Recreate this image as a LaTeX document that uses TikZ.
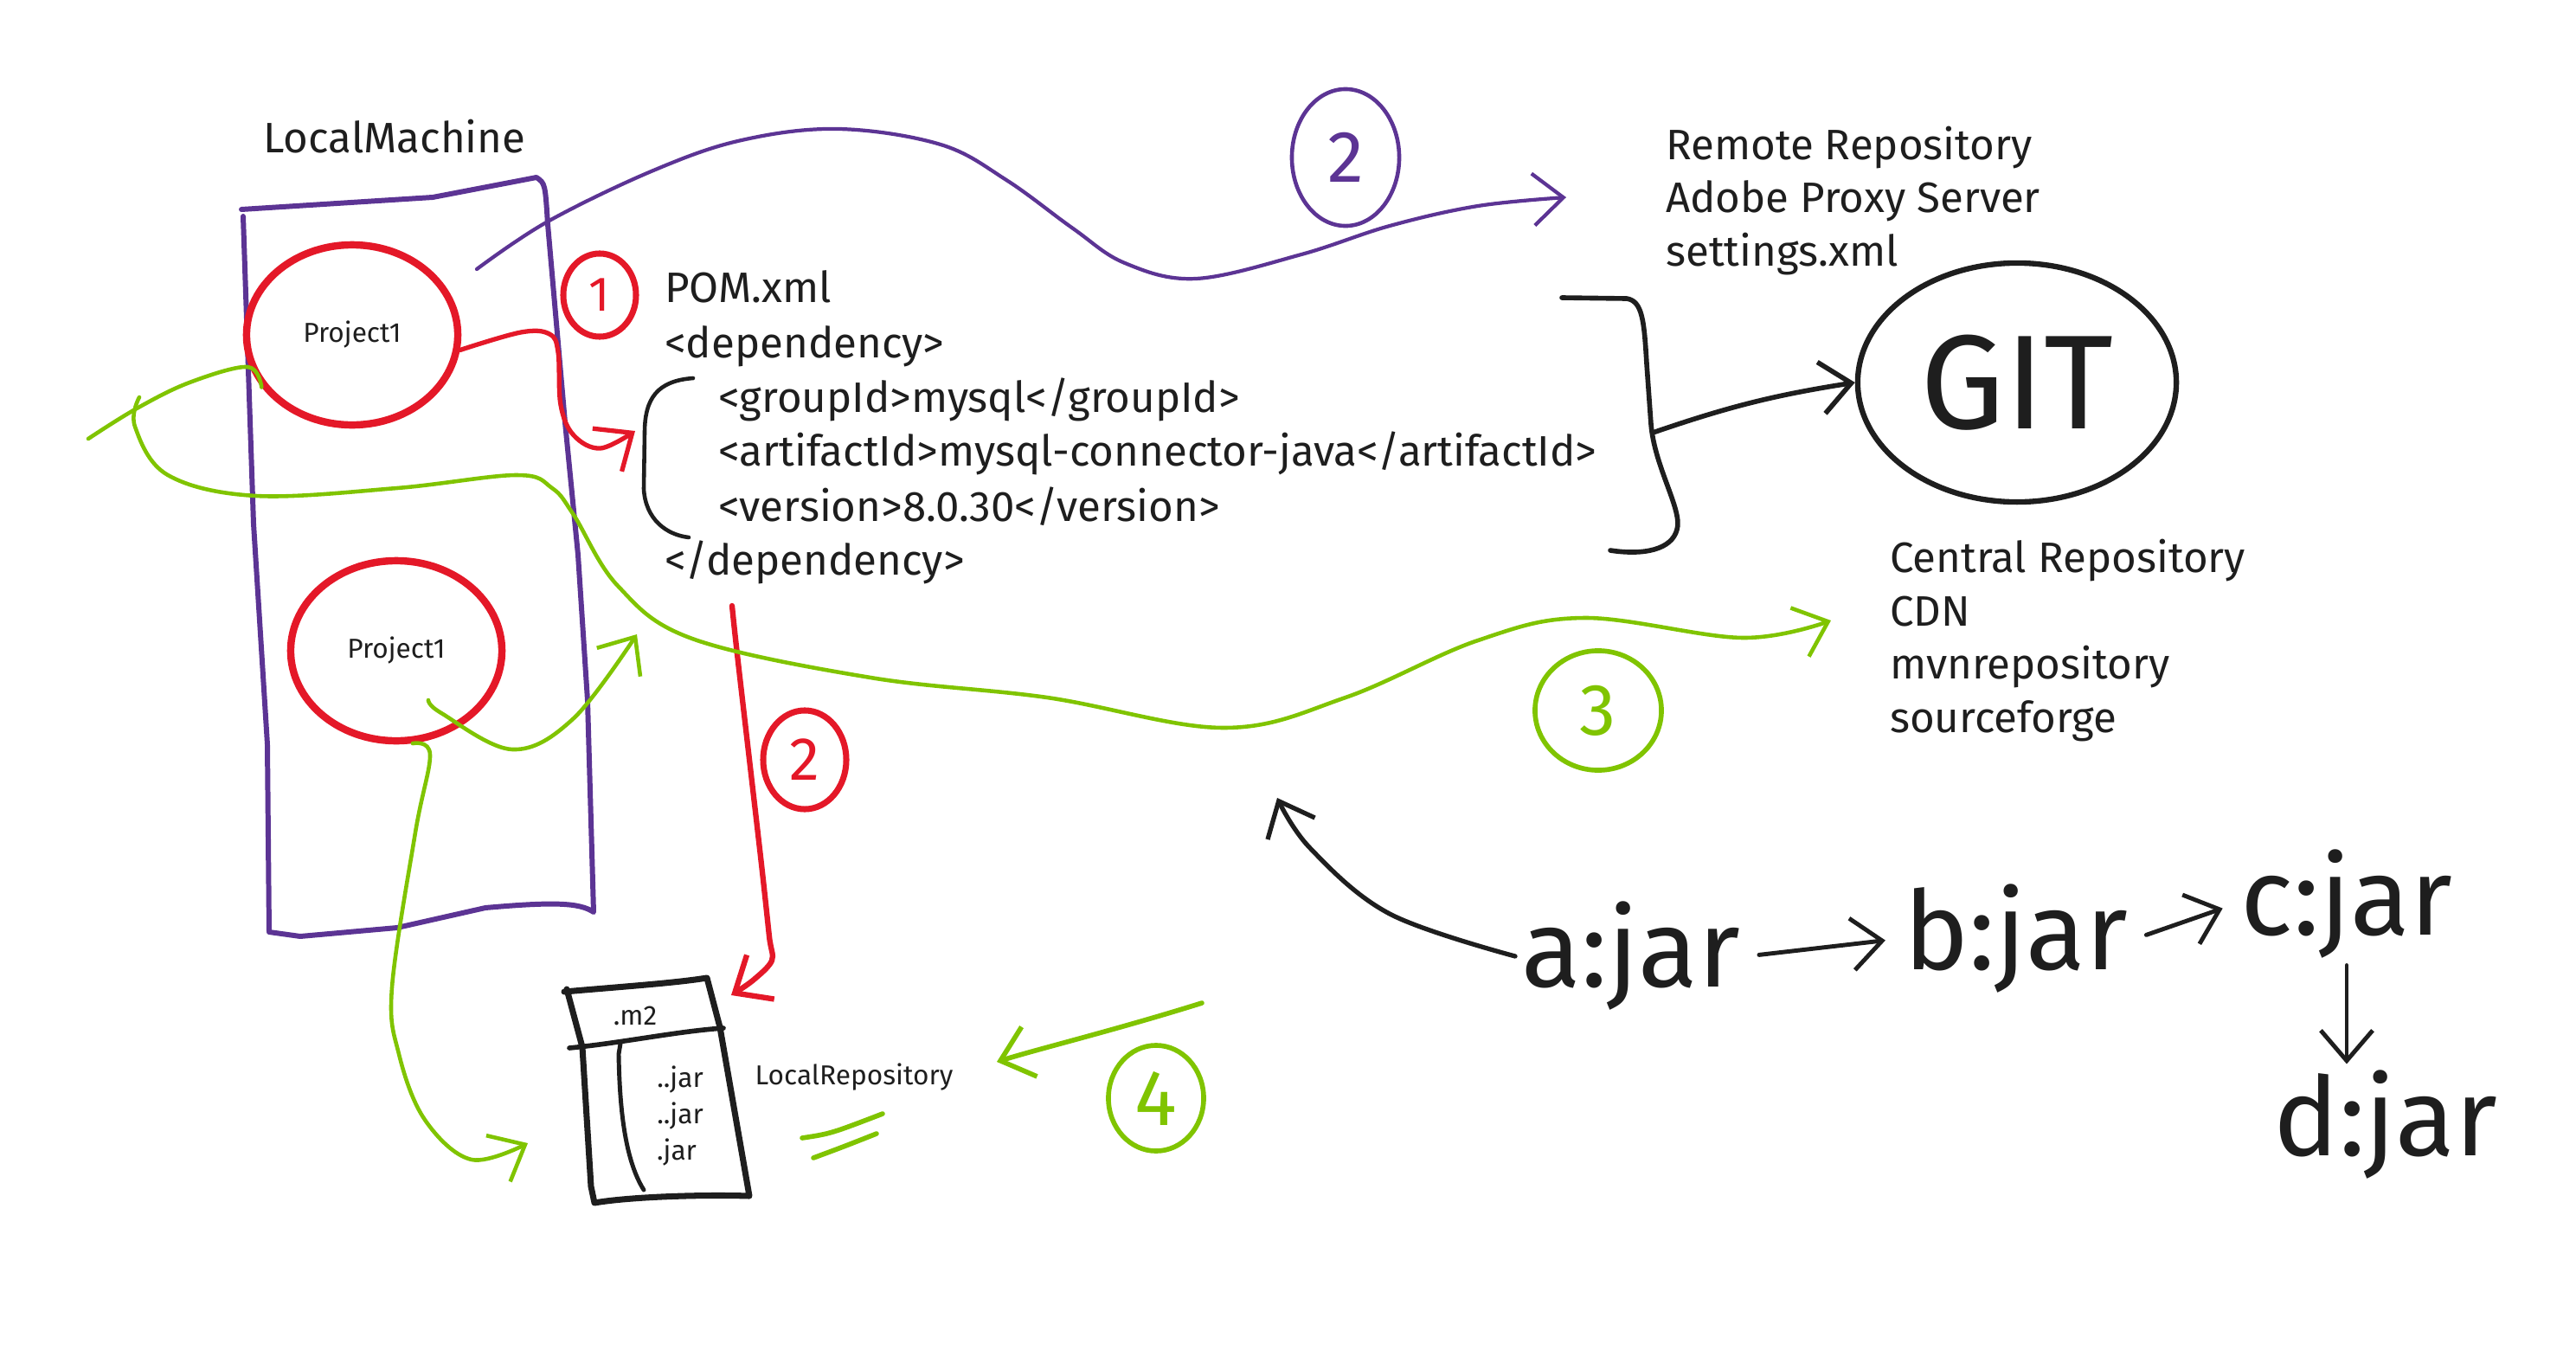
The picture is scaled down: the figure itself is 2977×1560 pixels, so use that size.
\documentclass[tikz,border=0pt]{standalone}
\usepackage{fontspec}
\setmainfont{Fira Sans}
\usetikzlibrary{arrows.meta,shapes.geometric}
\definecolor{mvnpurple}{RGB}{92,52,148}
\definecolor{mvnred}{RGB}{228,24,40}
\definecolor{mvngreen}{RGB}{128,196,0}
\definecolor{mvnink}{RGB}{30,30,30}
\tikzset{
  txt/.style={text=mvnink,inner sep=1pt,font=\fontsize{14pt}{17.6pt}\selectfont},
  smalltxt/.style={text=mvnink,inner sep=1pt,font=\fontsize{9pt}{11pt}\selectfont},
  proj/.style={ellipse,draw=mvnred,line width=2.4pt,inner sep=0pt,minimum width=2.44cm,minimum height=2.08cm,smalltxt},
  num/.style={ellipse,draw,inner sep=0pt,line width=2pt},
  jartxt/.style={text=mvnink,inner sep=2pt,font=\fontsize{36pt}{40pt}\selectfont},
  handarrow/.style={-{Straight Barb[length=0.35cm,width=0.6cm]}},
}
\begin{document}
\begin{tikzpicture}[x=0.01cm,y=-0.01cm,line cap=round,line join=round]
  \useasboundingbox (0,0) rectangle (2977,1560);
  \node[txt] (lm) at (456,158) {LocalMachine};
  \draw[mvnpurple,line width=1.7pt] (279,242) -- (500,228) -- (620,205) .. controls (630,212) .. (633,259)
    -- (653,488) -- (668,641) -- (679,809) -- (686,1054) .. controls (670,1043) and (640,1042) .. (561,1049)
    -- (459,1072) -- (347,1082) -- (311,1077) -- (309,860) -- (293,605) -- (281,250);
  \node[proj] (pa) at (407,387) {Project1};
  \node[proj] (pb) at (458,752) {Project1};
  \node[num,mvnred,minimum width=0.84cm,minimum height=0.96cm,font=\fontsize{16pt}{16pt}\selectfont] (n1) at (693,341) {1};
  \node[num,mvnpurple,line width=1.3pt,minimum width=1.24cm,minimum height=1.58cm,font=\fontsize{24pt}{24pt}\selectfont] (n2p) at (1555,182) {2};
  \node[num,mvnred,minimum width=0.96cm,minimum height=1.14cm,font=\fontsize{20pt}{20pt}\selectfont] (n2r) at (930,878) {2};
  \node[num,mvngreen,line width=1.6pt,minimum width=1.46cm,minimum height=1.38cm,font=\fontsize{24pt}{24pt}\selectfont] (n3) at (1847,821) {3};
  \node[num,mvngreen,line width=1.6pt,minimum width=1.1cm,minimum height=1.22cm,font=\fontsize{26pt}{26pt}\selectfont] (n4) at (1336,1269) {4};
  \node[txt,anchor=base west] (pom) at (764,349) {POM.xml};
  \node[txt,anchor=base west] (dep) at (764,413) {<dependency>};
  \node[txt,anchor=base west] (grp) at (826,476) {<groupId>mysql</groupId>};
  \node[txt,anchor=base west] (art) at (826,538) {<artifactId>mysql-connector-java</artifactId>};
  \node[txt,anchor=base west] (ver) at (826,602) {<version>8.0.30</version>};
  \node[txt,anchor=base west] (depc) at (764,664) {</dependency>};
  \draw[mvnink,line width=1.3pt] (801,437) .. controls (760,440) and (745,460) .. (745,500) -- (744,565)
    .. controls (746,600) and (770,618) .. (796,621);
  \draw[mvnink,line width=1.6pt] (1805,344) -- (1880,345) .. controls (1898,348) and (1900,370) .. (1903,420)
    -- (1908,490) .. controls (1912,540) and (1945,590) .. (1938,612) .. controls (1932,635) and (1900,642) .. (1861,636);
  \coordinate (lbr) at (734,498);
  \coordinate (rbr) at (1910,500);
  \node[ellipse,draw=mvnink,line width=1.8pt,inner sep=0pt,minimum width=3.68cm,minimum height=2.76cm,text=mvnink,
    font=\fontsize{44pt}{44pt}\selectfont] (git) at (2331,442) {GIT};
  \node[txt,align=left,anchor=west] (remote) at (1921,232) {Remote Repository\\Adobe Proxy Server\\settings.xml};
  \node[txt,align=left,anchor=west] (central) at (2180,740) {Central Repository\\CDN\\mvnrepository\\sourceforge};
  \draw[mvnink,line width=2pt] (652,1146) .. controls (720,1140) and (780,1136) .. (817,1130) -- (832,1187) -- (866,1382)
    .. controls (800,1380) and (720,1384) .. (687,1390) -- (683,1371) -- (673,1210) -- (655,1143);
  \draw[mvnink,line width=1.6pt] (658,1211) .. controls (720,1205) and (780,1192) .. (836,1188);
  \draw[mvnink,line width=1.4pt] (717,1206) -- (715,1218) .. controls (716,1280) and (722,1340) .. (744,1375);
  \node[smalltxt] (m2) at (734,1174) {.m2};
  \node[smalltxt] (jar1) at (786,1247) {..jar};
  \node[smalltxt] (jar2) at (786,1289) {..jar};
  \node[smalltxt] (jar3) at (782,1331) {.jar};
  \node[smalltxt] (lrepo) at (987,1245) {LocalRepository};
  \coordinate (p2s) at (551,311);
  \coordinate (p2e) at (1810,228);
  \draw[mvnpurple,line width=1.2pt,handarrow] plot[smooth,tension=0.6] coordinates {(p2s) (633,256) (755,197) (857,162)
    (969,149) (1087,167) (1163,208) (1240,264) (1300,304) (1382,322) (1504,294) (1606,261) (1708,238) (p2e)};
  \draw[mvnred,line width=1.5pt,handarrow] plot[smooth,tension=0.6] coordinates {(pa.-8) (602,384) (635,386) (645,407)
    (648,468) (663,503) (694,518) (lbr)};
  \coordinate (r2s) at (846,700);
  \coordinate (m2e) at (845,1150);
  \draw[mvnred,line width=1.8pt,handarrow] plot[smooth,tension=0.5] coordinates {(r2s) (853,765) (879,990) (889,1082)
    (892,1110) (870,1133) (m2e)};
  \draw[mvnink,line width=1.6pt,handarrow] (rbr) to[bend left=5] (git.west);
  \draw[mvngreen,line width=1.3pt] plot[smooth,tension=0.6] coordinates {(102,507) (158,472) (219,442) (286,424) (pa.-150)};
  \coordinate (g3s) at (161,459);
  \coordinate (c3e) at (2116,717);
  \draw[mvngreen,line width=1.3pt,handarrow] plot[smooth,tension=0.6] coordinates {(g3s) (156,493) (194,549) (296,573)
    (459,564) (597,549) (638,564) (663,595) (714,677) (800,738) (1006,783) (1210,806) (1414,841) (1555,806)
    (1708,740) (1831,714) (2014,737) (c3e)};
  \coordinate (gbs) at (495,809);
  \coordinate (gbe) at (736,733);
  \draw[mvngreen,line width=1.3pt,handarrow] plot[smooth,tension=0.6] coordinates {(gbs) (510,824) (592,866) (663,830) (gbe)};
  \coordinate (g5e) at (610,1321);
  \draw[mvngreen,line width=1.3pt,handarrow] plot[smooth,tension=0.6] coordinates {(pb.-80) (497,872) (480,962) (453,1141)
    (461,1218) (491,1294) (545,1340) (g5e)};
  \coordinate (g4s) at (1389,1159);
  \coordinate (g4e) at (1152,1227);
  \draw[mvngreen,line width=1.6pt,handarrow] (g4s) .. controls (1290,1190) and (1200,1212) .. (g4e);
  \draw[mvngreen,line width=1.6pt] (927,1315) .. controls (960,1310) .. (1020,1287);
  \draw[mvngreen,line width=1.6pt] (940,1338) .. controls (975,1325) .. (1013,1310);
  \node[jartxt] (aj) at (1885,1105) {a:jar};
  \node[jartxt] (bj) at (2330,1085) {b:jar};
  \node[jartxt] (cj) at (2712,1045) {c:jar};
  \node[jartxt] (dj) at (2757,1300) {d:jar};
  \coordinate (bk) at (1476,922);
  \draw[mvnink,line width=1.5pt,handarrow] plot[smooth,tension=0.6] coordinates {(aj.west) (1606,1056) (1514,980) (bk)};
  \draw[mvnink,line width=1.4pt,handarrow,shorten <=4pt,shorten >=4pt] (aj.east) -- (bj.west);
  \draw[mvnink,line width=1.4pt,handarrow,shorten <=4pt,shorten >=4pt] (bj.east) -- (cj.west);
  \draw[mvnink,line width=1.4pt,handarrow] (cj.south) -- (cj.south |- dj.north);
\end{tikzpicture}
\end{document}
